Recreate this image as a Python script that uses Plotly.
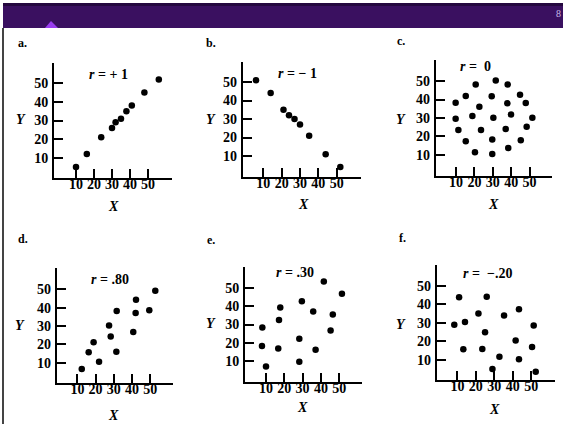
import plotly.graph_objects as go

W, H = 563, 424

# ---------------- data ----------------
a_x = [10, 16, 24, 30, 32, 35, 38, 41, 48, 56]
a_y = [5, 12, 21, 26, 29, 31, 35, 38, 45, 52]

b_x = [6, 14, 21, 24, 27, 30, 35, 44, 52]
b_y = [51, 44, 35, 32, 30, 27, 21, 11, 4]

c_x = [20.7, 31.6, 38.1, 15.3, 29.4, 44.8, 9.8, 22.7, 37.9, 47.9, 18.9, 30.3, 39.9,
       51.5, 9.8, 11.3, 23.6, 37.0, 48.4, 15.3, 29.7, 45.2, 20.3, 29.7, 38.4]
c_y = [48.2, 50.3, 48.2, 41.9, 41.7, 42.6, 38.3, 36.1, 37.9, 38.1, 31.0, 30.1, 31.9,
       30.1, 29.6, 23.4, 23.4, 24.0, 25.2, 17.3, 18.2, 17.8, 11.3, 10.4, 13.6]

d_x = [12.4, 16.2, 18.9, 21.9, 27.4, 28.3, 31.4, 31.6, 40.7, 42.0, 42.2, 49.5, 52.8]
d_y = [6.5, 15.6, 21.1, 10.5, 30.3, 24.2, 16.0, 38.1, 26.7, 37.1, 44.3, 38.5, 49.2]

e_x = [8.0, 7.8, 10.0, 17.1, 17.8, 16.7, 28.2, 28.2, 29.6, 35.8, 37.1, 41.6, 45.3, 46.5, 51.5]
e_y = [28.4, 18.3, 7.2, 32.4, 39.3, 17.0, 22.3, 9.8, 42.6, 37.1, 16.3, 53.4, 26.8, 35.5, 46.7]

f_x = [8.3, 10.9, 14.1, 13.2, 21.4, 23.5, 25.0, 25.9, 29.0, 32.8, 35.3, 41.6, 43.4,
       43.4, 50.5, 51.4, 52.5]
f_y = [29.0, 43.8, 30.5, 15.7, 35.0, 15.9, 24.9, 44.1, 5.0, 11.7, 33.9, 20.5, 37.3,
       10.3, 16.9, 28.5, 3.6]

panel_letters = ["a.", "b.", "c.", "d.", "e.", "f."]
r_labels = ["<i>r</i> = + 1", "<i>r</i> = \u2212 1", "<i>r</i> =  0",
            "<i>r</i> = .80", "<i>r</i> = .30", "<i>r</i> =  \u2212.20"]
tick_vals = [10, 20, 30, 40, 50]
tick_text = ["10", "20", "30", "40", "50"]
page_number = "8"

series = [(a_x, a_y), (b_x, b_y), (c_x, c_y), (d_x, d_y), (e_x, e_y), (f_x, f_y)]

# ---------------- layout geometry (pixels) ----------------
# L, R, B, T : axis box; x0,y0 : pixel of data 0; sx, sy : px per unit
geom = [
    dict(L=54, R=172, B=178, T=63, x0=58, sx=1.8, y0=176.3, sy=1.86),
    dict(L=242.7, R=361, B=176.7, T=61.7, x0=245, sx=1.833, y0=174.5, sy=1.85),
    dict(L=435.7, R=551.7, B=175.7, T=60, x0=437.6, sx=1.84, y0=173.1, sy=1.84),
    dict(L=56.7, R=173.3, B=383.3, T=268.3, x0=59.2, sx=1.82, y0=381, sy=1.835),
    dict(L=245, R=361.7, B=381.7, T=266.7, x0=247.7, sx=1.83, y0=379.7, sy=1.84),
    dict(L=436.7, R=555, B=380.3, T=265, x0=439, sx=1.8425, y0=378.3, sy=1.85),
]
letter_pos = [(22, 43), (211, 43), (401, 41), (23, 239), (211, 240), (402, 238)]
ylab_pos = [(21, 120), (211, 119), (401, 120), (20, 325), (211, 323), (401, 324)]
xlab_pos = [(113, 206), (303, 205), (493, 204), (113, 415), (302, 407), (494, 409)]
r_pos = [(108, 75), (297, 73), (475, 66), (110, 279), (295, 272), (487, 273)]


def px(x):
    return x / W


def py(y):
    return 1 - y / H


SERIF = "Liberation Serif"
fig = go.Figure()
annotations = []
shapes = []


def note(x, y, text, size, weight="normal", color="black"):
    annotations.append(dict(x=px(x), y=py(y), xref="paper", yref="paper",
                            xanchor="center", yanchor="middle",
                            text=text, showarrow=False,
                            font=dict(family=SERIF, size=size, color=color, weight=weight)))


for i, ((xs, ys), g) in enumerate(zip(series, geom)):
    n = "" if i == 0 else str(i + 1)
    fig.add_trace(go.Scatter(
        x=xs, y=ys, mode="markers", xaxis="x" + n, yaxis="y" + n,
        marker=dict(color="black", size=6.5), showlegend=False, hoverinfo="skip"))
    axis_common = dict(
        showgrid=False, zeroline=False, showline=True, linecolor="black", linewidth=2,
        ticks="inside", ticklen=9, tickwidth=2, tickcolor="black",
        tickvals=tick_vals, ticktext=tick_text,
        tickfont=dict(family=SERIF, size=14, color="black", weight="bold"),
        fixedrange=True, automargin=False)
    fig.layout["xaxis" + n] = dict(
        axis_common,
        domain=[px(g["L"]), px(g["R"])],
        range=[(g["L"] - g["x0"]) / g["sx"], (g["R"] - g["x0"]) / g["sx"]],
        anchor="y" + n, ticklabelstandoff=-8)
    fig.layout["yaxis" + n] = dict(
        axis_common,
        domain=[py(g["B"]), py(g["T"])],
        range=[(g["y0"] - g["B"]) / g["sy"], (g["y0"] - g["T"]) / g["sy"]],
        anchor="x" + n, ticklabelstandoff=1)

    note(*letter_pos[i], "<b>" + panel_letters[i] + "</b>", 12)
    note(*ylab_pos[i], "<b><i>Y</i></b>", 14)
    note(*xlab_pos[i], "<b><i>X</i></b>", 14)
    note(*r_pos[i], r_labels[i], 14, weight="bold")

# header bar
shapes.append(dict(type="rect", xref="paper", yref="paper", x0=px(3), x1=1,
                   y0=py(28), y1=py(3), fillcolor="#3a1060", line=dict(width=0), layer="below"))
shapes.append(dict(type="rect", xref="paper", yref="paper", x0=px(3), x1=1,
                   y0=py(6), y1=py(3), fillcolor="#25083f", line=dict(width=0), layer="below"))
shapes.append(dict(type="path", xref="paper", yref="paper",
                   path="M {:.4f},{:.4f} L {:.4f},{:.4f} L {:.4f},{:.4f} Z".format(
                       px(45), py(28), px(51), py(21), px(58), py(28)),
                   fillcolor="#9a3df0", line=dict(width=0)))
shapes.append(dict(type="line", xref="paper", yref="paper",
                   x0=px(3), x1=px(3), y0=py(28), y1=0,
                   line=dict(color="#444444", width=2)))
note(558, 13, page_number, 10, color="#c9b8e6")

fig.update_layout(
    width=W, height=H, margin=dict(l=0, r=0, t=0, b=0, pad=0, autoexpand=False),
    paper_bgcolor="white", plot_bgcolor="white",
    annotations=annotations, shapes=shapes, showlegend=False)

fig.write_html("out.html", config={"displayModeBar": False},
               post_script="document.body.style.margin='0';document.body.style.overflow='hidden';")
